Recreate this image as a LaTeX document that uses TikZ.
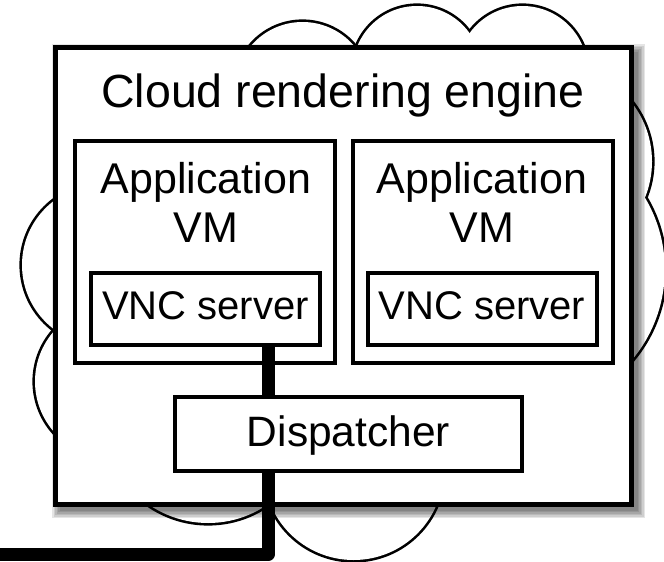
\documentclass[tikz,border=0pt]{standalone}
\usepackage{fontspec}
\setmainfont{Liberation Sans}
\usetikzlibrary{calc}
\begin{document}
\begin{tikzpicture}[x=1pt,y=-1pt,
  box/.style={draw=black,fill=white,inner sep=0pt,outer sep=0pt},
  outerbox/.style={box,line width=5pt,minimum width=576pt,minimum height=457pt},
  vmbox/.style={box,line width=3.5pt,minimum width=260pt,minimum height=222pt},
  vncbox/.style={box,line width=4pt,minimum width=229pt,minimum height=72.5pt},
  dispbox/.style={box,line width=3.5pt,minimum width=347pt,minimum height=74pt},
  txt/.style={inner sep=0pt,anchor=base},
  titlefont/.style={font=\fontsize{46.5}{52}\selectfont},
  appfont/.style={font=\fontsize{43}{49}\selectfont},
  vncfont/.style={font=\fontsize{40}{46}\selectfont},
  dispfont/.style={font=\fontsize{42.5}{48}\selectfont},
  link/.style={line width=13pt,line join=round},
  shadowlayer/.style={fill=black,opacity=0.1}
]
\useasboundingbox (0,0) rectangle (664,562);

% cloud bumps: stroke wide, then fill white so only the outline of the union stays
\def\bumps{302.5/89.6/67.6, 417/70.4/64.4, 522.5/71.1/65.1,
  102.5/265/80.5, 111.3/381.5/76.3,
  556.4/161.5/95.6, 524.4/269.7/140.4,
  208.1/418.2/104.8, 353.6/470.1/89.9}
\foreach \cx/\cy/\r in \bumps
  \draw[line width=5.2pt] (\cx,\cy) circle[radius=\r pt];
\foreach \cx/\cy/\r in \bumps
  \fill[white] (\cx,\cy) circle[radius=\r pt];

% soft shadow of the engine box
\coordinate (enw) at (55,47);
\coordinate (ese) at (631,504);
\foreach \e in {9,7.5,6,4.5,3,1.5}
  \fill[shadowlayer] ($(enw)+(6-\e,6-\e)$) rectangle ($(ese)+(5+\e,5+\e)$);

% outer box
\node[outerbox] (engine) at (343,275.5) {};
\node[txt,titlefont] (title) at (343,107) {Cloud rendering engine};

% application VMs
\node[vmbox] (vm1) at (205,252) {};
\node[vmbox] (vm2) at (483,252) {};
\node[txt,appfont] (app1) at (206,193) {Application};
\node[txt,appfont] (vmt1) at (206,242) {VM};
\node[txt,appfont] (app2) at (482,193) {Application};
\node[txt,appfont] (vmt2) at (482,242) {VM};

% VNC servers
\node[vncbox] (vnc1) at (205.5,308.75) {};
\node[vncbox] (vnc2) at (482,308.75) {};
\node[txt,vncfont] (vnct1) at (205.5,319) {VNC server};
\node[txt,vncfont] (vnct2) at (482,319) {VNC server};

% dispatcher
\node[dispbox] (disp) at (348.5,434) {};
\node[txt,dispfont] (dispt) at (348.5,446) {Dispatcher};

% connection
\coordinate (lx) at (268.5,0);
\coordinate (exit) at (0,554);
\draw[link] (vnc1.south -| lx) -- (disp.north -| lx);
\draw[link] (disp.south -| lx) |- (exit);
\end{tikzpicture}
\end{document}
